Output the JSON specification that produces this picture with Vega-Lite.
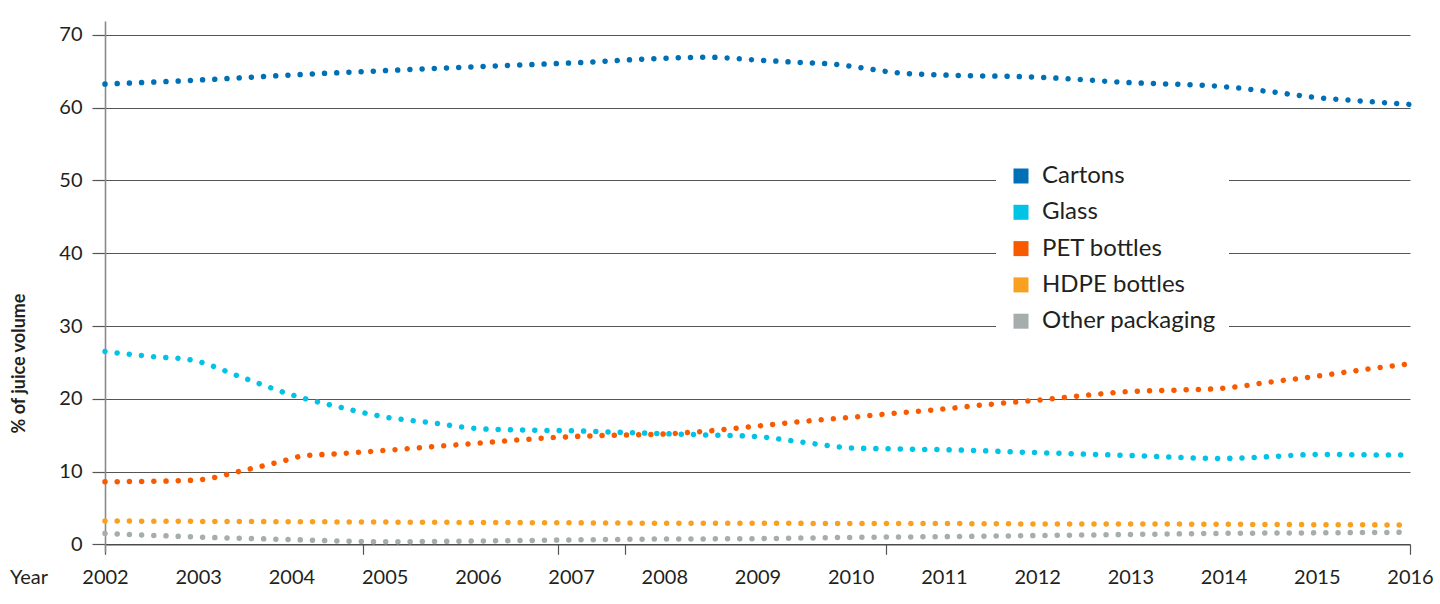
{
  "$schema": "https://vega.github.io/schema/vega-lite/v6.json",
  "width": 1305,
  "height": 531,
  "autosize": {"type": "none"},
  "padding": {"left": 105, "top": 21, "right": 30, "bottom": 52},
  "background": "white",
  "config": {
    "view": {"stroke": null},
    "font": "Lato",
    "axis": {"labelFont": "Lato", "titleFont": "Lato", "labelColor": "#231f20", "titleColor": "#231f20"},
    "legend": {"labelFont": "Lato"}
  },
  "data": {
    "values": [
      {"year": 2002, "type": "Cartons", "value": 63.25},
      {"year": 2003, "type": "Cartons", "value": 63.8},
      {"year": 2004, "type": "Cartons", "value": 64.5},
      {"year": 2005, "type": "Cartons", "value": 65.1},
      {"year": 2006, "type": "Cartons", "value": 65.65},
      {"year": 2007, "type": "Cartons", "value": 66.15},
      {"year": 2008, "type": "Cartons", "value": 66.8},
      {"year": 2008.45, "type": "Cartons", "value": 66.95},
      {"year": 2009, "type": "Cartons", "value": 66.55},
      {"year": 2009.5, "type": "Cartons", "value": 66.2},
      {"year": 2009.8, "type": "Cartons", "value": 66.0},
      {"year": 2010, "type": "Cartons", "value": 65.7},
      {"year": 2010.5, "type": "Cartons", "value": 64.8},
      {"year": 2011, "type": "Cartons", "value": 64.5},
      {"year": 2012, "type": "Cartons", "value": 64.2},
      {"year": 2013, "type": "Cartons", "value": 63.45},
      {"year": 2014, "type": "Cartons", "value": 62.9},
      {"year": 2014.5, "type": "Cartons", "value": 62.2},
      {"year": 2015, "type": "Cartons", "value": 61.4},
      {"year": 2015.5, "type": "Cartons", "value": 60.9},
      {"year": 2016, "type": "Cartons", "value": 60.45},

      {"year": 2002, "type": "Glass", "value": 26.5},
      {"year": 2002.5, "type": "Glass", "value": 25.8},
      {"year": 2002.9, "type": "Glass", "value": 25.4},
      {"year": 2003.5, "type": "Glass", "value": 22.8},
      {"year": 2004, "type": "Glass", "value": 20.55},
      {"year": 2004.5, "type": "Glass", "value": 18.9},
      {"year": 2005, "type": "Glass", "value": 17.5},
      {"year": 2005.5, "type": "Glass", "value": 16.7},
      {"year": 2006, "type": "Glass", "value": 15.9},
      {"year": 2006.5, "type": "Glass", "value": 15.7},
      {"year": 2007, "type": "Glass", "value": 15.6},
      {"year": 2007.5, "type": "Glass", "value": 15.4},
      {"year": 2008, "type": "Glass", "value": 15.2},
      {"year": 2008.4, "type": "Glass", "value": 15.05},
      {"year": 2009, "type": "Glass", "value": 14.8},
      {"year": 2009.5, "type": "Glass", "value": 14.0},
      {"year": 2010, "type": "Glass", "value": 13.25},
      {"year": 2010.5, "type": "Glass", "value": 13.1},
      {"year": 2011, "type": "Glass", "value": 13.0},
      {"year": 2012, "type": "Glass", "value": 12.6},
      {"year": 2013, "type": "Glass", "value": 12.2},
      {"year": 2014, "type": "Glass", "value": 11.8},
      {"year": 2014.5, "type": "Glass", "value": 12.05},
      {"year": 2015, "type": "Glass", "value": 12.35},
      {"year": 2015.5, "type": "Glass", "value": 12.3},
      {"year": 2016, "type": "Glass", "value": 12.25},

      {"year": 2002, "type": "PET bottles", "value": 8.6},
      {"year": 2002.5, "type": "PET bottles", "value": 8.65},
      {"year": 2003, "type": "PET bottles", "value": 8.85},
      {"year": 2003.5, "type": "PET bottles", "value": 10.2},
      {"year": 2004, "type": "PET bottles", "value": 11.75},
      {"year": 2004.1, "type": "PET bottles", "value": 12.1},
      {"year": 2004.5, "type": "PET bottles", "value": 12.45},
      {"year": 2005, "type": "PET bottles", "value": 12.9},
      {"year": 2005.5, "type": "PET bottles", "value": 13.4},
      {"year": 2006, "type": "PET bottles", "value": 13.9},
      {"year": 2006.5, "type": "PET bottles", "value": 14.4},
      {"year": 2007, "type": "PET bottles", "value": 14.8},
      {"year": 2007.5, "type": "PET bottles", "value": 15.0},
      {"year": 2008, "type": "PET bottles", "value": 15.15},
      {"year": 2008.4, "type": "PET bottles", "value": 15.5},
      {"year": 2009, "type": "PET bottles", "value": 16.25},
      {"year": 2009.5, "type": "PET bottles", "value": 16.9},
      {"year": 2010, "type": "PET bottles", "value": 17.45},
      {"year": 2010.5, "type": "PET bottles", "value": 18.05},
      {"year": 2011, "type": "PET bottles", "value": 18.6},
      {"year": 2011.5, "type": "PET bottles", "value": 19.25},
      {"year": 2012, "type": "PET bottles", "value": 19.8},
      {"year": 2012.5, "type": "PET bottles", "value": 20.45},
      {"year": 2013, "type": "PET bottles", "value": 21.0},
      {"year": 2013.5, "type": "PET bottles", "value": 21.2},
      {"year": 2014, "type": "PET bottles", "value": 21.45},
      {"year": 2014.5, "type": "PET bottles", "value": 22.3},
      {"year": 2015, "type": "PET bottles", "value": 23.1},
      {"year": 2015.5, "type": "PET bottles", "value": 24.0},
      {"year": 2016, "type": "PET bottles", "value": 24.8},

      {"year": 2002, "type": "HDPE bottles", "value": 3.2},
      {"year": 2003, "type": "HDPE bottles", "value": 3.15},
      {"year": 2004, "type": "HDPE bottles", "value": 3.1},
      {"year": 2005, "type": "HDPE bottles", "value": 3.05},
      {"year": 2006, "type": "HDPE bottles", "value": 3.0},
      {"year": 2007, "type": "HDPE bottles", "value": 2.95},
      {"year": 2008, "type": "HDPE bottles", "value": 2.9},
      {"year": 2009, "type": "HDPE bottles", "value": 2.9},
      {"year": 2010, "type": "HDPE bottles", "value": 2.85},
      {"year": 2011, "type": "HDPE bottles", "value": 2.85},
      {"year": 2012, "type": "HDPE bottles", "value": 2.8},
      {"year": 2013, "type": "HDPE bottles", "value": 2.8},
      {"year": 2014, "type": "HDPE bottles", "value": 2.75},
      {"year": 2015, "type": "HDPE bottles", "value": 2.7},
      {"year": 2016, "type": "HDPE bottles", "value": 2.65},

      {"year": 2002, "type": "Other packaging", "value": 1.5},
      {"year": 2003, "type": "Other packaging", "value": 1.0},
      {"year": 2004, "type": "Other packaging", "value": 0.65},
      {"year": 2005, "type": "Other packaging", "value": 0.35},
      {"year": 2006, "type": "Other packaging", "value": 0.45},
      {"year": 2007, "type": "Other packaging", "value": 0.6},
      {"year": 2008, "type": "Other packaging", "value": 0.72},
      {"year": 2009, "type": "Other packaging", "value": 0.78},
      {"year": 2010, "type": "Other packaging", "value": 0.95},
      {"year": 2011, "type": "Other packaging", "value": 1.05},
      {"year": 2012, "type": "Other packaging", "value": 1.2},
      {"year": 2013, "type": "Other packaging", "value": 1.35},
      {"year": 2014, "type": "Other packaging", "value": 1.5},
      {"year": 2015, "type": "Other packaging", "value": 1.58},
      {"year": 2016, "type": "Other packaging", "value": 1.65}
    ]
  },
  "resolve": {"axis": {"x": "independent"}},
  "layer": [
    {
      "mark": {"type": "line", "interpolate": "monotone", "strokeWidth": 5.5, "strokeCap": "round", "strokeDash": [0.01, 12.2]},
      "encoding": {
        "x": {
          "field": "year", "type": "quantitative",
          "scale": {"domain": [2002, 2016], "nice": false, "zero": false},
          "axis": {
            "orient": "bottom",
            "values": [2002, 2003, 2004, 2005, 2006, 2007, 2008, 2009, 2010, 2011, 2012, 2013, 2014, 2015, 2016],
            "format": "d",
            "offset": -7.7,
            "grid": false,
            "domain": true, "domainColor": "#4a4a4a", "domainWidth": 1.3,
            "ticks": true, "tickSize": 10, "tickOpacity": 0,
            "labelFontSize": 20, "labelPadding": 23, "labelBaseline": "middle", "labelFlush": false, "labelOverlap": false,
            "title": "Year", "titleFontSize": 20, "titleFontWeight": "normal",
            "titleX": -76.5, "titleY": 33, "titleAlign": "center", "titleBaseline": "middle", "titleAnchor": null
          }
        },
        "y": {
          "field": "value", "type": "quantitative",
          "scale": {"domain": [-1.06, 71.92], "nice": false, "zero": false},
          "axis": {
            "values": [0, 10, 20, 30, 40, 50, 60, 70],
            "grid": true, "gridColor": "#555555", "gridWidth": 1.2,
            "domain": true, "domainColor": "#8a8a8a", "domainWidth": 1.6,
            "ticks": true, "tickSize": 13, "tickColor": "#555555", "tickWidth": 1.2,
            "labelFontSize": 20, "labelPadding": 10,
            "title": "% of juice volume", "titleFontSize": 18, "titleFontWeight": 700,
            "titleX": -86, "titleY": 342, "titleAngle": 270, "titleAlign": "center", "titleBaseline": "middle", "titleAnchor": null
          }
        },
        "color": {
          "field": "type", "type": "nominal",
          "scale": {
            "domain": ["Cartons", "Glass", "PET bottles", "HDPE bottles", "Other packaging"],
            "range": ["#0070b6", "#00c3e6", "#f85a00", "#f9a021", "#a6adad"]
          },
          "legend": {
            "title": null,
            "orient": "none",
            "legendX": 891,
            "legendY": 130,
            "fillColor": "white",
            "padding": 13,
            "symbolType": "square",
            "symbolSize": 225,
            "symbolStrokeWidth": 0,
            "symbolDash": [],
            "labelFontSize": 24,
            "labelColor": "#231f20",
            "labelOffset": 9,
            "rowPadding": 12.3,
            "labelLimit": 300,
            "encode": {
              "symbols": {"update": {"fill": {"scale": "color", "field": "value"}, "fillOpacity": {"value": 1}, "strokeWidth": {"value": 0}, "opacity": {"value": 1}}}
            }
          }
        }
      }
    },
    {
      "mark": {"type": "point", "opacity": 0},
      "encoding": {
        "x": {
          "field": "year", "type": "quantitative",
          "axis": {
            "orient": "bottom",
            "values": [2002, 2004.77, 2006.86, 2007.58, 2010.38, 2016],
            "offset": -7.7,
            "grid": false, "domain": false, "labels": false,
            "ticks": true, "tickSize": 10, "tickColor": "#555555", "tickWidth": 1.2,
            "title": null
          }
        }
      }
    }
  ]
}
